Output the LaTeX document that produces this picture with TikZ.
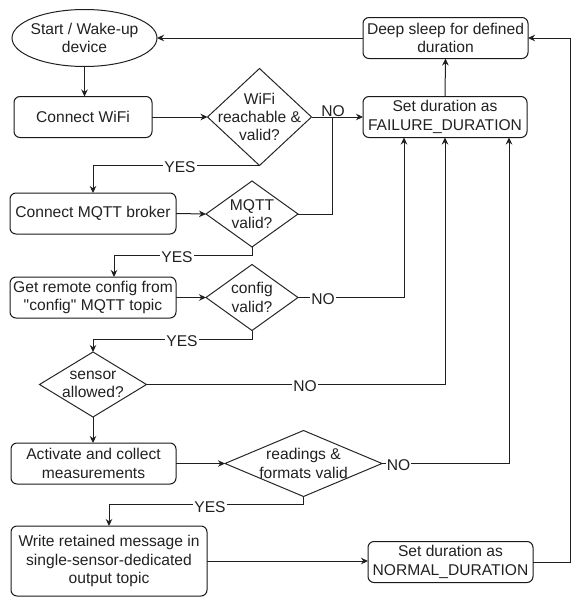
\documentclass[tikz,border=0pt]{standalone}
\usepackage{fontspec}
\setmainfont{Liberation Sans}
\usetikzlibrary{shapes.geometric,arrows.meta}
\begin{document}
\begin{tikzpicture}[x=1pt,y=-1pt,
  txt/.style={font=\fontsize{15.6}{18.3}\selectfont, text=black!87, align=center, inner sep=0pt},
  box/.style={txt, draw=black!90, line width=1pt, rounded corners=6pt, minimum width=#1, minimum height=41pt, outer sep=0pt},
  dia/.style n args={2}{draw=black!85, line width=1pt, diamond, minimum width=#1, minimum height=#2, inner sep=0pt, outer sep=0pt},
  conn/.style={draw=black!88, line width=1pt},
  arr/.style={conn, -{Stealth[length=7pt,width=6.5pt]}},
  lbl/.style={txt, fill=white, inner xsep=1pt, inner ysep=1.5pt},
]
\useasboundingbox (0,0) rectangle (571,597);

% nodes
\node[draw=black!88, line width=1pt, ellipse, minimum width=145pt, minimum height=57pt, inner sep=0pt, outer sep=0pt] (start) at (84.5,38) {};
\node[txt] (starttxt) at (start) {Start / Wake-up\\device};
\node[box=138pt] (wifi) at (83,117) {Connect WiFi};
\node[dia={104pt}{97pt}] (q1) at (259.5,117) {};
\node[txt] (q1txt) at (q1) {WiFi\\reachable \&\\valid?};
\node[box=164pt] (fail) at (445,117) {Set duration as\\FAILURE\_DURATION};
\node[box=165pt] (sleep) at (445.5,38) {Deep sleep for defined\\duration};
\node[box=166pt] (mqtt) at (93,213.5) {Connect MQTT broker};
\node[dia={92pt}{66pt}] (q2) at (252,214) {};
\node[txt] (q2txt) at (q2) {MQTT\\valid?};
\node[box=166pt] (cfg) at (93,297.5) {Get remote config from\\\textquotedbl config\textquotedbl{} MQTT topic};
\node[dia={92pt}{66pt}] (q3) at (252,297.5) {};
\node[txt] (q3txt) at (q3) {config\\valid?};
\node[dia={107pt}{65pt}] (q4) at (93,384.5) {};
\node[txt] (q4txt) at (q4) {sensor\\allowed?};
\node[box=165pt] (act) at (93.5,463.5) {Activate and collect\\measurements};
\node[dia={157pt}{66pt}] (q5) at (303.5,463.5) {};
\node[txt] (q5txt) at (q5) {readings \&\\formats valid};
\node[box=196pt, minimum height=70pt] (write) at (109,561) {Write retained message in\\single-sensor-dedicated\\output topic};
\node[box=165pt] (norm) at (450.5,562) {Set duration as\\NORMAL\_DURATION};

% helper coordinates
\path (fail.south) ++(-41,0) coordinate (f1);
\path (fail.south) ++(64,0) coordinate (f2);
\coordinate (j1) at (332,117);
\coordinate (y2) at (114,255);
\coordinate (y3) at (93,339);
\coordinate (y5) at (109,504.5);
\coordinate (r1) at (570,38);

% connectors
\draw[arr] (sleep.west) -- (start.east);
\draw[arr] (start.south) -- (start.south |- wifi.north);
\draw[arr] (wifi.east) -- (q1.west);
\draw[arr] (q1.east) -- (fail.west);
\node[txt, anchor=south, inner sep=0.5pt] (no1) at (333,117) {NO};
\draw[conn] (q2.east) -| (j1);
\draw[arr] (q1.south) -| (mqtt.north);
\node[lbl] (yes1) at (180,167) {YES};
\draw[arr] (mqtt.east) -- (q2.west);
\draw[arr] (q2.south) |- (y2) -- (y2 |- cfg.north);
\node[lbl] (yes2) at (177,257) {YES};
\draw[arr] (cfg.east) -- (q3.west);
\draw[arr] (q3.east) -| (f1);
\node[lbl] (no3) at (323,299) {NO};
\draw[arr] (q3.south) |- (y3) -- (q4.north);
\node[lbl] (yes3) at (182,341) {YES};
\draw[arr] (q4.east) -| (fail.south);
\node[lbl] (no4) at (305,386) {NO};
\draw[arr] (q4.south) -- (q4.south |- act.north);
\draw[arr] (act.east) -- (q5.west);
\draw[arr] (q5.east) -| (f2);
\node[lbl] (no5) at (398.5,465) {NO};
\draw[arr] (q5.south) |- (y5) -- (write.north);
\node[lbl] (yes5) at (210,507) {YES};
\draw[arr] (write.east) -- (write.east -| norm.west);
\draw[arr] (norm.east) -| (r1) -- (sleep.east);
\draw[arr] (fail.north) -- (sleep.south);
\end{tikzpicture}
\end{document}
